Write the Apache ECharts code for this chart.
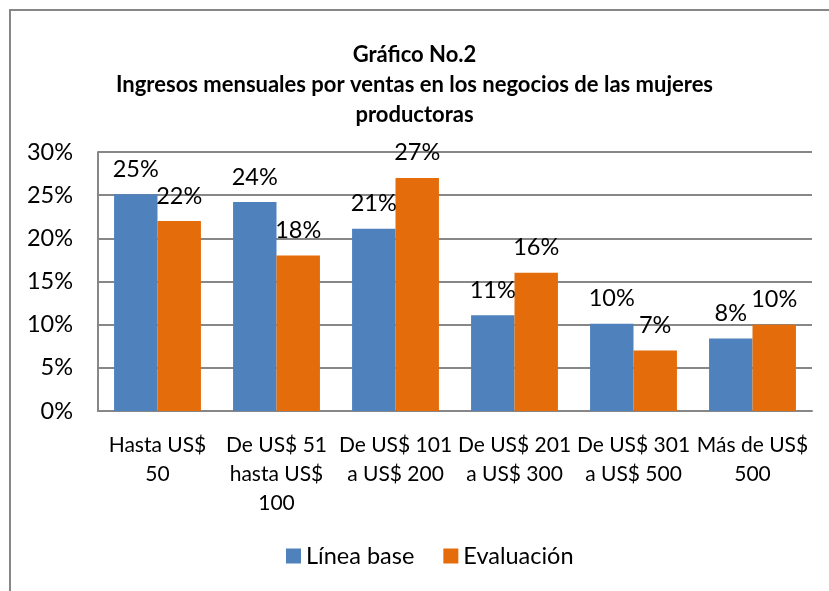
<!DOCTYPE html>
<html>
<head>
<meta charset="utf-8">
<script src="https://cdn.jsdelivr.net/npm/echarts@6/dist/echarts.min.js"></script>
<style>
  html, body { margin: 0; padding: 0; background: #fff; }
  #chart { width: 829px; height: 591px; }
</style>
</head>
<body>
<div id="chart"></div>
<script>
const categories = [
  'Hasta US$\n50',
  'De US$ 51\nhasta US$\n100',
  'De US$ 101\na US$ 200',
  'De US$ 201\na US$ 300',
  'De US$ 301\na US$ 500',
  'Más de US$\n500',
];
const lineaBase = [25.1, 24.2, 21.1, 11.1, 10.1, 8.4];
const evaluacion = [22, 18, 27, 16, 7, 10];
const yTicks = [0, 5, 10, 15, 20, 25, 30];

const font = 'Lato, "Open Sans", sans-serif';
const gray = '#878787';
const fs = 23.5;

const chart = echarts.init(document.getElementById('chart'));

const pctLabel = {
  show: true,
  position: 'top',
  distance: 13,
  color: '#000',
  fontFamily: font,
  fontSize: fs,
  formatter: (p) => Math.round(p.value) + '%',
};

chart.setOption({
  animation: false,
  textStyle: { fontFamily: font },
  graphic: [
    {
      type: 'rect',
      shape: { x: 10, y: 10, width: 900, height: 700 },
      style: { fill: 'none', stroke: gray, lineWidth: 2 },
      silent: true,
    },
  ],
  title: {
    text: 'Gráfico No.2\nIngresos mensuales por ventas en los negocios de las mujeres\nproductoras',
    left: 'center',
    top: 35,
    textStyle: {
      fontFamily: font,
      fontSize: 22,
      fontWeight: 'bold',
      color: '#000',
      lineHeight: 30,
    },
  },
  legend: {
    left: 281,
    top: 539,
    itemWidth: 15,
    itemHeight: 15,
    itemGap: 29,
    icon: 'rect',
    textStyle: { fontFamily: font, fontSize: fs, color: '#000' },
    data: ['Línea base', 'Evaluación'],
  },
  grid: { left: 98, right: 17, top: 152, bottom: 180 },
  xAxis: {
    type: 'category',
    data: categories,
    axisLine: { lineStyle: { color: gray, width: 2 } },
    axisTick: { show: false },
    axisLabel: {
      interval: 0,
      margin: 20,
      color: '#000',
      fontFamily: font,
      fontSize: 21,
      lineHeight: 29,
    },
  },
  yAxis: {
    type: 'value',
    min: yTicks[0],
    max: yTicks[yTicks.length - 1],
    interval: 5,
    axisLine: { show: true, lineStyle: { color: gray, width: 2 } },
    axisTick: { show: false },
    splitLine: { lineStyle: { color: gray, width: 2 } },
    axisLabel: {
      margin: 25,
      color: '#000',
      fontFamily: font,
      fontSize: fs,
      formatter: (v) => v + '%',
    },
  },
  series: [
    {
      name: 'Línea base',
      type: 'bar',
      data: lineaBase,
      barGap: '0%',
      barCategoryGap: '27%',
      itemStyle: { color: '#4F81BD' },
      label: pctLabel,
    },
    {
      name: 'Evaluación',
      type: 'bar',
      data: evaluacion,
      barGap: '0%',
      barCategoryGap: '27%',
      itemStyle: { color: '#E46C0A' },
      label: pctLabel,
    },
  ],
});
</script>
</body>
</html>
